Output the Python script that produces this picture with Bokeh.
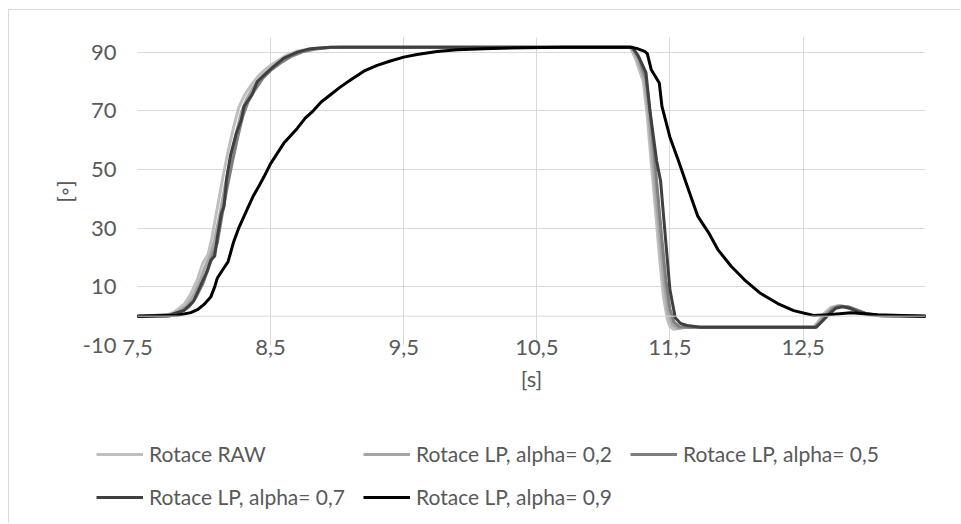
from bokeh.plotting import figure
from bokeh.models import FixedTicker, Span, Legend, LegendItem
from bokeh.embed import file_html
from bokeh.resources import INLINE

# Rotation step response: raw signal and low-pass filtered variants
t_raw = [7.50, 7.70, 7.78, 7.85, 7.90, 7.95, 7.99, 8.03, 8.06, 8.10, 8.14, 8.18, 8.22, 8.26, 8.30, 8.35,
         8.41, 8.47, 8.55, 8.62, 8.70, 8.80, 8.90, 9.00, 11.20, 11.24, 11.27, 11.30, 11.33, 11.36, 11.39,
         11.42, 11.45, 11.48, 11.50, 11.53, 11.60, 12.58, 12.62, 12.66, 12.71, 12.76, 12.82, 12.88, 12.95,
         13.05, 13.42]
y_raw = [0.0, 0.0, 1.5, 4.0, 7.5, 12.5, 18.0, 21.0, 27.0, 37.0, 47.0, 56.0, 64.0, 71.0, 75.0, 78.5,
         82.0, 84.5, 87.0, 89.0, 90.3, 91.2, 91.6, 91.7, 91.7, 88.0, 84.0, 80.0, 68.0, 52.0, 37.0,
         21.0, 7.0, -1.0, -3.5, -4.5, -3.8, -3.8, -1.5, 1.0, 3.0, 3.6, 3.2, 2.0, 0.8,
         0.1, 0.0]

t_a2 = [7.50, 7.72, 7.80, 7.87, 7.92, 7.97, 8.01, 8.05, 8.08, 8.12, 8.16, 8.20, 8.24, 8.28, 8.32, 8.37,
        8.43, 8.49, 8.57, 8.64, 8.72, 8.82, 8.92, 9.02, 11.21, 11.25, 11.28, 11.31, 11.34, 11.37, 11.40,
        11.43, 11.46, 11.49, 11.52, 11.56, 11.62, 12.59, 12.63, 12.67, 12.72, 12.77, 12.83, 12.89, 12.96,
        13.06, 13.42]
y_a2 = [0.0, 0.0, 1.3, 3.6, 7.0, 12.0, 17.0, 21.0, 26.0, 35.0, 45.0, 54.0, 62.0, 69.5, 74.0, 78.0,
        81.5, 84.0, 86.8, 88.8, 90.2, 91.1, 91.6, 91.7, 91.7, 88.5, 84.5, 80.5, 69.0, 54.0, 39.0,
        24.0, 10.0, 0.5, -3.0, -4.2, -3.8, -3.8, -1.6, 0.8, 2.9, 3.5, 3.2, 2.1, 0.9,
        0.2, 0.0]

t_a5 = [7.50, 7.74, 7.82, 7.89, 7.94, 7.99, 8.03, 8.06, 8.10, 8.13, 8.17, 8.21, 8.25, 8.29, 8.33, 8.38,
        8.44, 8.50, 8.58, 8.66, 8.74, 8.84, 8.95, 9.05, 11.21, 11.26, 11.29, 11.32, 11.35, 11.38, 11.41,
        11.44, 11.47, 11.50, 11.53, 11.57, 11.64, 12.59, 12.64, 12.68, 12.73, 12.78, 12.84, 12.90, 12.97,
        13.07, 13.42]
y_a5 = [0.0, 0.0, 1.2, 3.3, 6.5, 11.0, 16.0, 20.0, 25.0, 33.0, 43.0, 52.0, 60.5, 68.0, 73.0, 77.0,
        81.0, 83.8, 86.5, 88.7, 90.1, 91.1, 91.6, 91.7, 91.7, 89.0, 85.0, 81.0, 70.0, 56.0, 41.0,
        26.0, 12.0, 2.5, -2.0, -3.6, -3.8, -3.8, -1.7, 0.6, 2.7, 3.4, 3.2, 2.2, 1.0,
        0.2, 0.0]

t_a7 = [7.50, 7.75, 7.85, 7.92, 7.97, 8.02, 8.05, 8.08, 8.10, 8.13, 8.15, 8.17, 8.20, 8.24, 8.28, 8.30,
        8.36, 8.40, 8.46, 8.52, 8.60, 8.70, 8.80, 8.95, 11.22, 11.27, 11.32, 11.35, 11.40, 11.43, 11.46,
        11.50, 11.54, 11.58, 11.63, 11.73, 12.60, 12.65, 12.70, 12.75, 12.80, 12.86, 12.92, 12.99, 13.09,
        13.42]
y_a7 = [0.0, 0.5, 2.0, 5.0, 10.0, 15.0, 19.0, 20.5, 27.0, 35.0, 37.5, 47.0, 55.0, 62.0, 67.0, 71.5,
        75.5, 80.0, 82.5, 85.0, 88.0, 90.0, 91.2, 91.7, 91.7, 88.0, 83.0, 70.0, 53.0, 46.0, 30.0,
        9.0, -0.5, -2.5, -3.2, -3.8, -3.8, -1.5, 0.9, 2.8, 3.2, 2.6, 1.4, 0.6, 0.1,
        0.0]

t_a9 = [7.50, 7.80, 7.90, 7.95, 8.00, 8.05, 8.08, 8.10, 8.15, 8.18, 8.22, 8.26, 8.30, 8.34, 8.37, 8.42,
        8.45, 8.50, 8.55, 8.60, 8.65, 8.70, 8.76, 8.82, 8.88, 8.95, 9.02, 9.10, 9.20, 9.30, 9.40,
        9.50, 9.60, 9.75, 9.90, 10.10, 10.40, 10.70, 11.20, 11.25, 11.31, 11.33, 11.36, 11.42, 11.44,
        11.50, 11.56, 11.64, 11.71, 11.79, 11.86, 11.96, 12.06, 12.18, 12.31, 12.43, 12.58, 12.69, 12.86,
        13.06, 13.42]
y_a9 = [0.0, 0.3, 1.2, 2.2, 4.0, 6.5, 10.0, 13.0, 16.5, 18.5, 25.0, 30.0, 34.0, 38.0, 41.0, 45.0,
        47.5, 52.0, 55.5, 59.0, 61.5, 64.0, 67.5, 70.0, 73.0, 75.5, 78.0, 80.5, 83.5, 85.5, 87.0,
        88.3, 89.2, 90.2, 90.8, 91.2, 91.5, 91.7, 91.7, 91.3, 90.3, 89.5, 84.0, 79.5, 71.5,
        61.0, 53.5, 43.0, 34.0, 28.5, 22.7, 17.0, 12.4, 7.8, 4.3, 1.9, 0.2, 0.5, 1.2,
        0.5, 0.0]

series_names = ["Rotace RAW", "Rotace LP, alpha= 0,2", "Rotace LP, alpha= 0,5",
                "Rotace LP, alpha= 0,7", "Rotace LP, alpha= 0,9"]
series_colors = ["#BFBFBF", "#A5A5A5", "#7F7F7F", "#404040", "#000000"]
series_t = [t_raw, t_a2, t_a5, t_a7, t_a9]
series_y = [y_raw, y_a2, y_a5, y_a7, y_a9]

x_ticks = [7.5, 8.5, 9.5, 10.5, 11.5, 12.5]
x_tick_labels = ["7,5", "8,5", "9,5", "10,5", "11,5", "12,5"]
y_ticks = [-10, 10, 30, 50, 70, 90]
y_tick_labels = ["-10", "10", "30", "50", "70", "90"]

FONT = "Lato"
TEXT = "#595959"
GRID = "#D9D9D9"

p = figure(width=952, height=400, x_range=(7.5, 13.42), y_range=(-10, 95),
           output_backend="svg", toolbar_location=None,
           min_border_left=128, min_border_right=36, min_border_top=27, min_border_bottom=65)
p.styles = {"margin-left": "8px", "margin-top": "9px",
            "border-left": f"1px solid {GRID}", "border-top": f"1px solid {GRID}"}
p.outline_line_color = None
p.background_fill_color = "white"
p.border_fill_color = "white"

# axes
p.xaxis.ticker = FixedTicker(ticks=x_ticks)
p.xaxis.major_label_overrides = dict(zip(x_ticks, x_tick_labels))
p.yaxis.ticker = FixedTicker(ticks=y_ticks)
p.yaxis.major_label_overrides = dict(zip(y_ticks, y_tick_labels))
for ax in (p.xaxis[0], p.yaxis[0]):
    ax.axis_line_color = None
    ax.major_tick_line_color = None
    ax.minor_tick_line_color = None
    ax.major_label_text_font = FONT
    ax.major_label_text_font_size = "22px"
    ax.major_label_text_color = TEXT
    ax.axis_label_text_font = FONT
    ax.axis_label_text_font_size = "22px"
    ax.axis_label_text_color = TEXT
    ax.axis_label_text_font_style = "normal"
p.xaxis.axis_label = "[s]"
p.yaxis.axis_label = "[◦]"
p.xaxis.major_label_standoff = -12
p.xaxis.axis_label_standoff = 7
p.yaxis.major_label_standoff = 15
p.yaxis.axis_label_standoff = 2

p.grid.grid_line_color = GRID
p.grid.grid_line_width = 1

# horizontal axis crosses at zero
p.add_layout(Span(location=0, dimension="width", line_color=GRID, line_width=1))

for t, y, c in zip(series_t, series_y, series_colors):
    p.line(t, y, line_color=c, line_width=3, line_join="round", line_cap="round")

# legend strip under the chart; its key lines use the same series, lying outside its view
lg = figure(width=952, height=114, x_range=(0, 1), y_range=(200, 201),
            output_backend="svg", toolbar_location=None,
            x_axis_location=None, y_axis_location=None,
            min_border_left=0, min_border_right=0, min_border_top=0, min_border_bottom=0)
lg.styles = {"margin-left": "8px", "border-left": f"1px solid {GRID}"}
lg.outline_line_color = None
lg.grid.visible = False
keys = [lg.line(t, y, line_color=c, line_width=3) for t, y, c in zip(series_t, series_y, series_colors)]
legend = Legend(items=[LegendItem(label=n, renderers=[r]) for n, r in zip(series_names, keys)],
                location=(87, 14), orientation="horizontal", ncols=3,
                glyph_width=47, glyph_height=20, label_height=20, label_standoff=6, spacing=18,
                padding=0, margin=0, border_line_alpha=0, background_fill_alpha=0,
                label_text_font=FONT, label_text_font_size="21px", label_text_color=TEXT)
lg.add_layout(legend)

open("out.html", "w").write(file_html([p, lg], INLINE))
